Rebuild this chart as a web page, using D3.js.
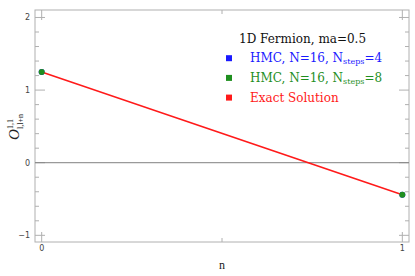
<!DOCTYPE html>
<html>
<head>
<meta charset="utf-8">
<script src="https://cdn.jsdelivr.net/npm/d3@7"></script>
<style>
  body { margin: 0; background: #fff; }
  svg { display: block; }
</style>
</head>
<body>
<svg></svg>
<script>
// data
let nValues = [0, 1]
let hmc4 = [1.25, -0.44]
let hmc8 = [1.25, -0.44]
let exact = [1.25, -0.44]
let xTicks = [0, 1]
let xMinor = [0.5]
let yTicks = [-1, 0, 1, 2]
let legendTitle = '1D Fermion, ma=0.5'
let legendNames = ['HMC, N=16, N', 'HMC, N=16, N', 'Exact Solution']
let legendSubs = ['steps', 'steps', '']
let legendTails = ['=4', '=8', '']
let legendColors = ['#1a1aff', '#1f8f1f', '#ff1a1a']

let width = 415
let height = 276
let plotLeft = 35, plotRight = 409, plotTop = 10, plotBottom = 242

let svg = d3.select('svg').attr('width', width).attr('height', height)

let xScale = d3.scaleLinear().domain([-0.0185, 1.0185]).range([plotLeft, plotRight])
let yScale = d3.scaleLinear().domain([-1.092, 2.103]).range([plotBottom, plotTop])

let frameColor = '#b0b0b0'

// frame
svg.append('rect')
  .attr('x', plotLeft).attr('y', plotTop)
  .attr('width', plotRight - plotLeft).attr('height', plotBottom - plotTop)
  .attr('fill', 'none').attr('stroke', frameColor).attr('stroke-width', 1)

// y ticks (major + minor) on left and right
let yMinor = d3.range(-1, 2.001, 0.2).filter(v => !yTicks.some(t => Math.abs(t - v) < 1e-6))
let drawYTicks = (vals, len) => {
  vals.forEach(v => {
    let y = yScale(v)
    svg.append('line').attr('x1', plotLeft).attr('x2', plotLeft + len).attr('y1', y).attr('y2', y)
      .attr('stroke', frameColor)
    svg.append('line').attr('x1', plotRight).attr('x2', plotRight - len).attr('y1', y).attr('y2', y)
      .attr('stroke', frameColor)
  })
}
drawYTicks(yTicks, 10)
drawYTicks(yMinor, 4)

let drawXTicks = (vals, len) => {
  vals.forEach(v => {
    let x = xScale(v)
    svg.append('line').attr('x1', x).attr('x2', x).attr('y1', plotBottom).attr('y2', plotBottom - len)
      .attr('stroke', frameColor)
    svg.append('line').attr('x1', x).attr('x2', x).attr('y1', plotTop).attr('y2', plotTop + len)
      .attr('stroke', frameColor)
  })
}
drawXTicks(xTicks, 10)
drawXTicks(xMinor, 4)

// tick labels
svg.selectAll('.ylab').data(yTicks).enter().append('text')
  .attr('x', plotLeft - 5).attr('y', d => yScale(d) + 3)
  .attr('text-anchor', 'end')
  .attr('font-family', 'DejaVu Sans').attr('font-size', 8).attr('fill', '#444')
  .text(d => d < 0 ? '\u2212' + Math.abs(d) : d)

svg.selectAll('.xlab').data(xTicks).enter().append('text')
  .attr('x', d => xScale(d)).attr('y', plotBottom + 9)
  .attr('text-anchor', 'middle')
  .attr('font-family', 'DejaVu Sans').attr('font-size', 8).attr('fill', '#444')
  .text(d => d)

// zero line
svg.append('line')
  .attr('x1', plotLeft).attr('x2', plotRight)
  .attr('y1', yScale(0)).attr('y2', yScale(0))
  .attr('stroke', '#808080').attr('stroke-width', 1)

// axis labels
svg.append('text')
  .attr('x', xScale(0.5)).attr('y', 269)
  .attr('text-anchor', 'middle')
  .attr('font-family', 'Liberation Serif').attr('font-size', 12).attr('fill', '#222')
  .text('n')

let yl = svg.append('text')
  .attr('transform', 'translate(19,' + 127 + ') rotate(-90)')
  .attr('text-anchor', 'middle')
  .attr('font-family', 'Liberation Serif').attr('fill', '#222')
yl.append('tspan').attr('font-size', 15).attr('font-style', 'italic').text('O')
yl.append('tspan').attr('font-size', 8).attr('dy', -6).text('1,1')
yl.append('tspan').attr('font-size', 8).attr('dx', -10).attr('dy', 10).text('l,l+n')

// series
let pts = (vals) => nValues.map((n, i) => ({ n: n, v: vals[i] }))

svg.selectAll('.b4').data(pts(hmc4)).enter().append('circle')
  .attr('cx', d => xScale(d.n)).attr('cy', d => yScale(d.v)).attr('r', 3)
  .attr('fill', legendColors[0])

svg.append('path')
  .datum(pts(exact))
  .attr('d', d3.line().x(d => xScale(d.n)).y(d => yScale(d.v)))
  .attr('fill', 'none').attr('stroke', legendColors[2]).attr('stroke-width', 1.6)

svg.selectAll('.g8').data(pts(hmc8)).enter().append('circle')
  .attr('cx', d => xScale(d.n)).attr('cy', d => yScale(d.v)).attr('r', 3)
  .attr('fill', legendColors[1])

// legend
let lx = 229, ly = 42.5
svg.append('text')
  .attr('x', 239).attr('y', ly)
  .attr('font-family', 'DejaVu Serif').attr('font-size', 12).attr('fill', '#111')
  .text(legendTitle)

legendNames.forEach((name, i) => {
  let y = ly + 19.7 * (i + 1)
  svg.append('rect')
    .attr('x', lx - 3).attr('y', y - 7).attr('width', 6).attr('height', 6)
    .attr('fill', legendColors[i])
  let t = svg.append('text')
    .attr('x', 250).attr('y', y)
    .attr('font-family', 'DejaVu Serif').attr('font-size', 12).attr('fill', legendColors[i])
  t.append('tspan').text(name)
  if (legendSubs[i]) {
    t.append('tspan').attr('font-size', 8).attr('dy', 2).text(legendSubs[i])
    t.append('tspan').attr('dy', -2).text(legendTails[i])
  }
})
</script>
</body>
</html>
